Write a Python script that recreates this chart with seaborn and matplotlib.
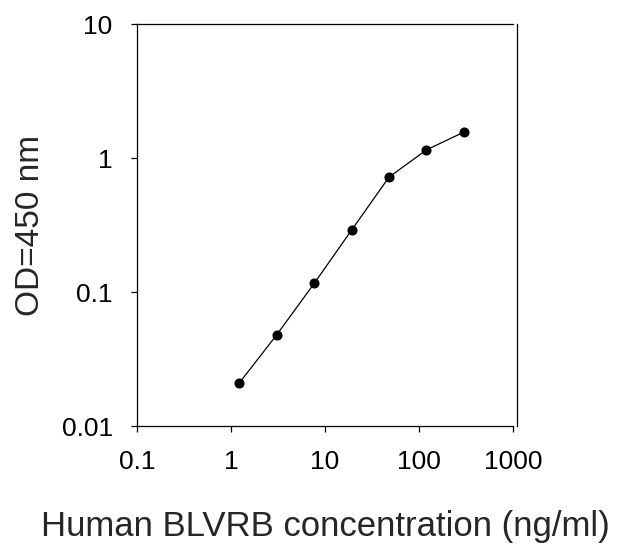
import matplotlib
matplotlib.use("Agg")
import matplotlib.pyplot as plt
import pandas as pd
import seaborn as sns
from matplotlib.ticker import FixedLocator, FixedFormatter, NullLocator

# standard curve, values
concentration = [1.23, 3.07, 7.68, 19.2, 48, 120, 300]
od450 = [0.021, 0.048, 0.116, 0.29, 0.72, 1.15, 1.56]

x_ticks = [0.1, 1, 10, 100, 1000]
x_tick_labels = ["0.1", "1", "10", "100", "1000"]
y_ticks = [0.01, 0.1, 1, 10]
y_tick_labels = ["0.01", "0.1", "1", "10"]


def plot():
    df = pd.DataFrame({'conc': concentration, 'od': od450})

    sns.set_style("ticks")
    plt.rcParams['font.family'] = ['Liberation Sans', 'DejaVu Sans']

    fig = plt.figure(figsize=(6.21, 5.55), dpi=100)
    ax = fig.add_axes([137 / 621, 1 - 426 / 555, 376 / 621, 402 / 555])

    sns.lineplot(data=df, x='conc', y='od', ax=ax,
                 color='black', linewidth=0.9,
                 marker='o', markersize=6.5, markeredgecolor='black')

    ax.set_xscale('log')
    ax.set_yscale('log')
    ax.set_xlim(0.1, 1000)
    ax.set_ylim(0.01, 10)

    ax.xaxis.set_major_locator(FixedLocator(x_ticks))
    ax.xaxis.set_major_formatter(FixedFormatter(x_tick_labels))
    ax.xaxis.set_minor_locator(NullLocator())
    ax.yaxis.set_major_locator(FixedLocator(y_ticks))
    ax.yaxis.set_major_formatter(FixedFormatter(y_tick_labels))
    ax.yaxis.set_minor_locator(NullLocator())

    ax.tick_params(axis='both', direction='out', length=4.5, width=0.9,
                   color='black', labelsize=19, labelcolor='black')
    ax.tick_params(axis='x', pad=13)
    ax.tick_params(axis='y', pad=13)

    for side in ['left', 'right', 'top', 'bottom']:
        ax.spines[side].set_visible(True)
        ax.spines[side].set_color('black')
        ax.spines[side].set_linewidth(0.9)
    ax.spines['right'].set_position(('outward', 3))

    ax.set_xlabel("Human BLVRB concentration (ng/ml)", fontsize=25, labelpad=26)
    ax.set_ylabel("OD=450 nm", fontsize=24, labelpad=11)

    plt.savefig("out.png", dpi=100)


if __name__ == '__main__':
    plot()
